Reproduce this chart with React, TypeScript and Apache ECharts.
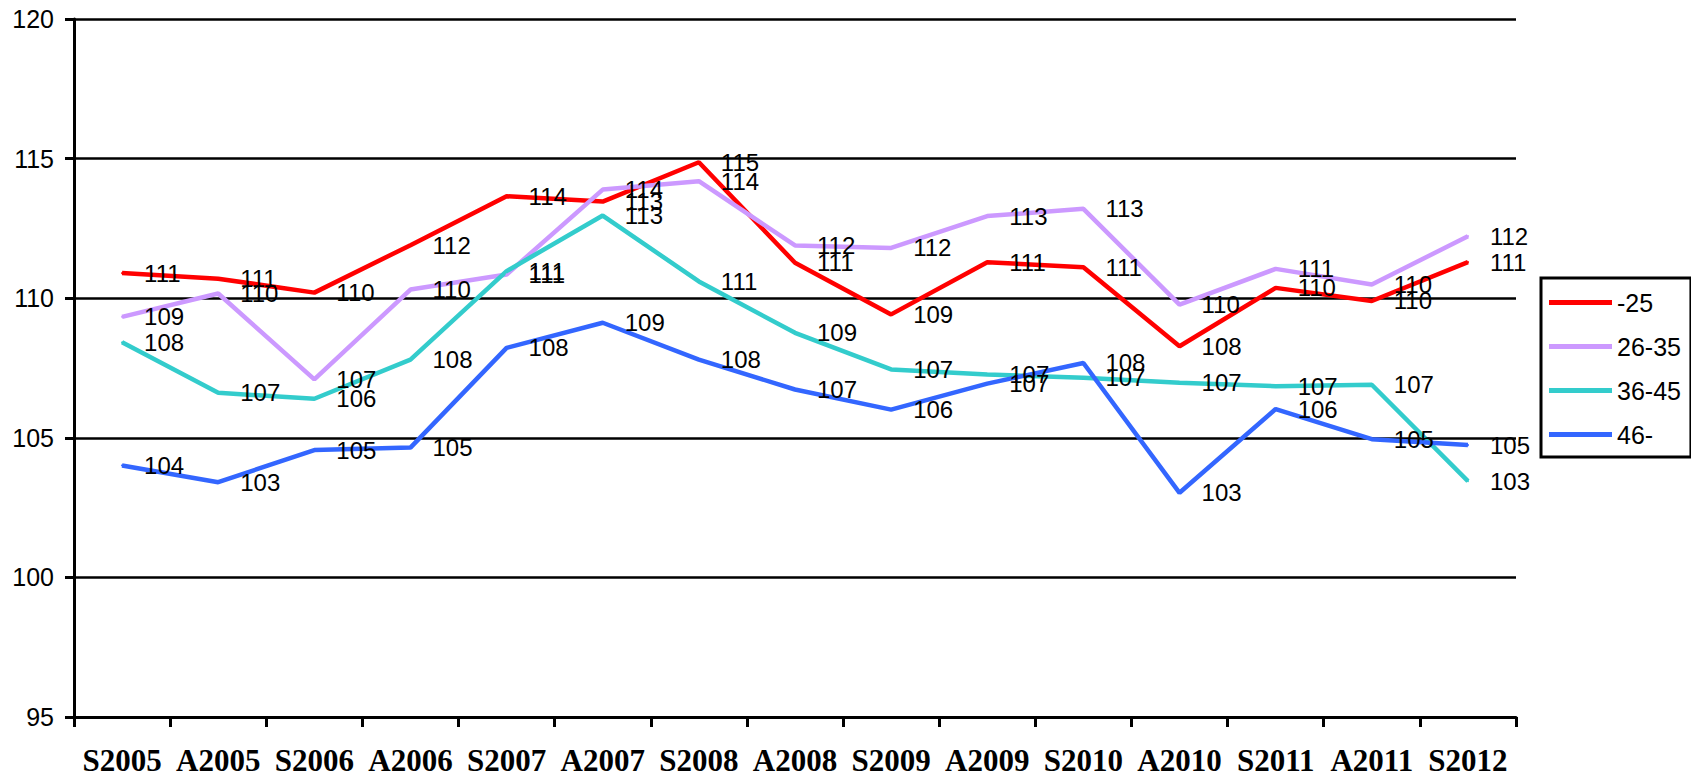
import { useEffect, useRef } from 'react';
import * as echarts from 'echarts';

const categories = ['S2005', 'A2005', 'S2006', 'A2006', 'S2007', 'A2007', 'S2008', 'A2008', 'S2009', 'A2009', 'S2010', 'A2010', 'S2011', 'A2011', 'S2012'];
const seriesNames = ['-25', '26-35', '36-45', '46-'];
const under25 = [110.9, 110.7, 110.2, 111.9, 113.65, 113.46, 114.87, 111.27, 109.42, 111.29, 111.11, 108.28, 110.37, 109.9, 111.29];
const age26to35 = [109.33, 110.17, 107.09, 110.31, 110.85, 113.89, 114.19, 111.89, 111.8, 112.94, 113.2, 109.77, 111.05, 110.49, 112.22];
const age36to45 = [108.42, 106.61, 106.4, 107.8, 110.97, 112.96, 110.6, 108.76, 107.45, 107.27, 107.15, 106.97, 106.85, 106.9, 103.45];
const age46plus = [104.01, 103.41, 104.56, 104.65, 108.22, 109.12, 107.8, 106.73, 106.01, 106.94, 107.68, 103.03, 106.03, 104.95, 104.74];
const seriesColors = ['#FF0000', '#CC99FF', '#33CCCC', '#3366FF'];
const yMin = 95;
const yMax = 120;
const yStep = 5;

export default function App() {
  const ref = useRef<HTMLDivElement>(null);
  useEffect(() => {
    if (!ref.current) return;
    const chart = echarts.init(ref.current, null, { renderer: 'svg' });
    const seriesData = [under25, age26to35, age36to45, age46plus];
    chart.setOption({
      animation: false,
      backgroundColor: '#ffffff',
      grid: { left: 74, right: 175, top: 19, bottom: 62, containLabel: false },
      xAxis: {
        type: 'category',
        data: categories,
        boundaryGap: true,
        axisLine: { show: true, lineStyle: { color: '#000', width: 3 } },
        axisTick: { show: true, length: 10, lineStyle: { color: '#000', width: 3 }, interval: 0 },
        axisLabel: {
          interval: 0,
          margin: 28,
          color: '#000',
          fontFamily: '"Liberation Serif", "Times New Roman", serif',
          fontWeight: 'bold',
          fontSize: 31,
        },
        splitLine: { show: false },
      },
      yAxis: {
        type: 'value',
        min: yMin,
        max: yMax,
        interval: yStep,
        axisLine: { show: true, lineStyle: { color: '#000', width: 3 } },
        axisTick: { show: true, length: 9, lineStyle: { color: '#000', width: 3 } },
        axisLabel: {
          margin: 20,
          color: '#000',
          fontFamily: '"Liberation Sans", Arial, sans-serif',
          fontSize: 25,
        },
        splitLine: { show: true, lineStyle: { color: '#000', width: 2.5 } },
      },
      legend: {
        orient: 'vertical',
        left: 1541,
        top: 278,
        padding: [12, 10, 10, 8],
        itemGap: 19,
        itemWidth: 63,
        itemHeight: 5,
        icon: 'rect',
        borderColor: '#000',
        borderWidth: 3,
        backgroundColor: '#fff',
        textStyle: {
          color: '#000',
          fontFamily: '"Liberation Sans", Arial, sans-serif',
          fontSize: 25,
          lineHeight: 25,
        },
        data: seriesNames,
      },
      series: seriesNames.map((name, i) => ({
        name,
        type: 'line',
        data: seriesData[i],
        color: seriesColors[i],
        symbol: 'circle',
        symbolSize: 2,
        showSymbol: true,
        itemStyle: { color: seriesColors[i] },
        lineStyle: { width: 4.5, color: seriesColors[i] },
        emphasis: { disabled: true },
        label: {
          show: true,
          position: 'right',
          distance: 21,
          color: '#000',
          fontFamily: '"Liberation Sans", Arial, sans-serif',
          fontSize: 24,
          formatter: (p: any) => String(Math.round(p.value)),
        },
      })),
    });
    return () => chart.dispose();
  }, []);
  return <div ref={ref} style={{ position: 'fixed', left: 0, top: 0, width: 1691, height: 779 }} />;
}
